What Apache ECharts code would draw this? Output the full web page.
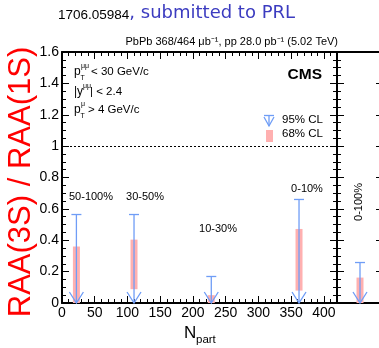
<!DOCTYPE html>
<html>
<head>
<meta charset="utf-8">
<script src="https://cdn.jsdelivr.net/npm/echarts@6/dist/echarts.min.js"></script>
<style>html,body{margin:0;padding:0;background:#fff}#c{width:379px;height:348px}</style>
</head>
<body>
<div id="c"></div>
<script>
// ---- data ----
const centralities = ['50-100%', '30-50%', '10-30%', '0-10%'];
const npart = [22, 110, 228, 362];
const box68Low = [0, 0.088, 0, 0.079];
const box68High = [0.36, 0.404, 0.05, 0.472];
const limit95 = [0.564, 0.564, 0.169, 0.66];
const intCentrality = '0-100%';
const intBoxLow = [0];
const intBoxHigh = [0.162];
const intLimit95 = [0.258];
const xTicks = [0, 50, 100, 150, 200, 250, 300, 350, 400];
const yTicks = [0, 0.2, 0.4, 0.6, 0.8, 1, 1.2, 1.4, 1.6];

const PINK = '#ffb0b0';
const BLUE = '#6f9df6';
const FONT = 'Liberation Sans';

const chart = echarts.init(document.getElementById('c'), null, {renderer: 'canvas'});

function renderItem(params, api) {
  const x = api.value(0);
  const pLo = api.coord([x, api.value(1)]);
  const pHi = api.coord([x, api.value(2)]);
  const pLim = api.coord([x, api.value(3)]);
  const p0 = api.coord([x, 0]);
  return {
    type: 'group',
    children: [
      {type: 'rect', shape: {x: pLo[0] - 3.5, y: pHi[1], width: 7, height: pLo[1] - pHi[1]}, style: {fill: PINK}},
      {type: 'line', shape: {x1: pLim[0], y1: pLim[1], x2: p0[0], y2: p0[1]}, style: {stroke: BLUE, lineWidth: 1.3}},
      {type: 'line', shape: {x1: pLim[0] - 5, y1: pLim[1], x2: pLim[0] + 5, y2: pLim[1]}, style: {stroke: BLUE, lineWidth: 1.3}},
      {type: 'polyline', shape: {points: [[p0[0] - 7, p0[1] - 11], [p0[0], p0[1]], [p0[0] + 7, p0[1] - 11]]}, style: {stroke: BLUE, lineWidth: 1.3, fill: null}}
    ]
  };
}

const tickLabelFmt = v => (xTicks.indexOf(v) >= 0 ? String(v) : '');
const yLabelFmt = v => (yTicks.some(t => Math.abs(t - v) < 1e-9) ? String(+v.toFixed(1)) : '');

const axisLine = {show: true, onZero: false, lineStyle: {color: '#000', width: 2}};
const tick = {show: true, inside: true, length: 7, lineStyle: {color: '#000', width: 1}};
const minor = (n) => ({show: true, splitNumber: n, length: 4, lineStyle: {color: '#000', width: 1}});

const option = {
  animation: false,
  backgroundColor: '#fff',
  grid: [
    {left: 62, top: 52, width: 275, height: 251, outerBoundsMode: 'none', containLabel: false},
    {left: 337, top: 52, width: 46, height: 251, outerBoundsMode: 'none', containLabel: false}
  ],
  xAxis: [
    {gridIndex: 0, type: 'value', min: 0, max: 420, interval: 50, position: 'bottom',
      axisLine, axisTick: tick, minorTick: minor(5), splitLine: {show: false},
      axisLabel: {formatter: tickLabelFmt, color: '#000', fontSize: 14, fontFamily: FONT, margin: 3}},
    {gridIndex: 0, type: 'value', min: 0, max: 420, interval: 50, position: 'top',
      axisLine, axisTick: tick, minorTick: minor(5), splitLine: {show: false}, axisLabel: {show: false}},
    {gridIndex: 1, type: 'value', min: 0, max: 1, position: 'bottom',
      axisLine, axisTick: {show: false}, splitLine: {show: false}, axisLabel: {show: false}},
    {gridIndex: 1, type: 'value', min: 0, max: 1, position: 'top',
      axisLine, axisTick: {show: false}, splitLine: {show: false}, axisLabel: {show: false}}
  ],
  yAxis: [
    {gridIndex: 0, type: 'value', min: 0, max: 1.6, interval: 0.2, position: 'left',
      axisLine, axisTick: tick, minorTick: minor(4), splitLine: {show: false},
      axisLabel: {formatter: yLabelFmt, color: '#000', fontSize: 14, fontFamily: FONT, margin: 3}},
    {gridIndex: 0, type: 'value', min: 0, max: 1.6, interval: 0.2, position: 'right',
      axisLine, axisTick: tick, minorTick: minor(4), splitLine: {show: false}, axisLabel: {show: false}},
    {gridIndex: 1, type: 'value', min: 0, max: 1.6, interval: 0.2, position: 'left',
      axisLine, axisTick: tick, minorTick: minor(4), splitLine: {show: false}, axisLabel: {show: false}},
    {gridIndex: 1, type: 'value', min: 0, max: 1.6, interval: 0.2, position: 'right',
      axisLine, axisTick: tick, minorTick: minor(4), splitLine: {show: false}, axisLabel: {show: false}}
  ],
  series: [
    {type: 'custom', xAxisIndex: 0, yAxisIndex: 0, renderItem,
      data: npart.map((x, i) => [x, box68Low[i], box68High[i], limit95[i]]),
      markLine: {silent: true, symbol: 'none', label: {show: false},
        lineStyle: {color: '#000', type: [2, 2], width: 1},
        data: [{yAxis: 1}]}},
    {type: 'custom', xAxisIndex: 2, yAxisIndex: 2, renderItem,
      data: [[0.5, intBoxLow[0], intBoxHigh[0], intLimit95[0]]]}
  ],
  graphic: [
    // title
    {type: 'text', left: 58, top: 4, style: {
      text: '{a|1706.05984}{b|, submitted to PRL}',
      rich: {
        a: {fontSize: 13.5, fontFamily: FONT, fill: '#000', verticalAlign: 'bottom', padding: [4, 0, 0, 0]},
        b: {fontSize: 18, fontFamily: 'DejaVu Sans', fill: '#3c3cc0'}
      }}},
    // luminosity
    {type: 'text', x: 338, y: 42, style: {text: 'PbPb 368/464 μb⁻¹, pp 28.0 pb⁻¹ (5.02 TeV)',
      fontSize: 11, fontFamily: FONT, fill: '#000', align: 'right', verticalAlign: 'middle'}},
    // y axis name
    {type: 'text', x: 21, y: 182, rotation: Math.PI / 2, style: {text: 'RAA(3S) / RAA(1S)',
      fontSize: 31, fontFamily: FONT, fill: '#ff0000', align: 'center', verticalAlign: 'middle'}},
    // x axis name
    {type: 'text', x: 184, y: 333, style: {text: 'N', fontSize: 17, fontFamily: FONT, fill: '#000', verticalAlign: 'middle'}},
    {type: 'text', x: 196, y: 340, style: {text: 'part', fontSize: 11.5, fontFamily: FONT, fill: '#000', verticalAlign: 'middle'}},
    // cuts text block
    {type: 'text', x: 74, y: 72, style: {text: 'p', fontSize: 12, fontFamily: FONT, fill: '#000', verticalAlign: 'middle'}},
    {type: 'text', x: 81, y: 66, style: {text: 'μμ', fontSize: 7, fontFamily: FONT, fill: '#000', verticalAlign: 'middle'}},
    {type: 'text', x: 80.5, y: 78, style: {text: 'T', fontSize: 7, fontFamily: FONT, fill: '#000', verticalAlign: 'middle'}},
    {type: 'text', x: 91, y: 72, style: {text: '< 30 GeV/c', fontSize: 11.5, fontFamily: FONT, fill: '#000', verticalAlign: 'middle'}},
    {type: 'text', x: 74, y: 92, style: {text: '|y', fontSize: 12, fontFamily: FONT, fill: '#000', verticalAlign: 'middle'}},
    {type: 'text', x: 83, y: 86, style: {text: 'μμ', fontSize: 7, fontFamily: FONT, fill: '#000', verticalAlign: 'middle'}},
    {type: 'text', x: 90, y: 92, style: {text: '| < 2.4', fontSize: 11.5, fontFamily: FONT, fill: '#000', verticalAlign: 'middle'}},
    {type: 'text', x: 74, y: 110, style: {text: 'p', fontSize: 12, fontFamily: FONT, fill: '#000', verticalAlign: 'middle'}},
    {type: 'text', x: 81, y: 104, style: {text: 'μ', fontSize: 7, fontFamily: FONT, fill: '#000', verticalAlign: 'middle'}},
    {type: 'text', x: 80.5, y: 116, style: {text: 'T', fontSize: 7, fontFamily: FONT, fill: '#000', verticalAlign: 'middle'}},
    {type: 'text', x: 88, y: 110, style: {text: '> 4 GeV/c', fontSize: 11.5, fontFamily: FONT, fill: '#000', verticalAlign: 'middle'}},
    // CMS
    {type: 'text', x: 322, y: 75, style: {text: 'CMS', fontSize: 15.5, fontWeight: 'bold', fontFamily: FONT, fill: '#000', align: 'right', verticalAlign: 'middle'}},
    // legend
    {type: 'line', shape: {x1: 264, y1: 115.5, x2: 274, y2: 115.5}, style: {stroke: BLUE, lineWidth: 1.3}},
    {type: 'line', shape: {x1: 269, y1: 115.5, x2: 269, y2: 126}, style: {stroke: BLUE, lineWidth: 1.3}},
    {type: 'polyline', shape: {points: [[264, 117], [269, 126], [274, 117]]}, style: {stroke: BLUE, lineWidth: 1.3, fill: null}},
    {type: 'text', x: 282, y: 120, style: {text: '95% CL', fontSize: 11.5, fontFamily: FONT, fill: '#000', verticalAlign: 'middle'}},
    {type: 'rect', shape: {x: 266, y: 130, width: 7, height: 12}, style: {fill: PINK}},
    {type: 'text', x: 282, y: 134, style: {text: '68% CL', fontSize: 11.5, fontFamily: FONT, fill: '#000', verticalAlign: 'middle'}},
    // centrality labels
    {type: 'text', x: 91, y: 197, style: {text: centralities[0], fontSize: 11, fontFamily: FONT, fill: '#000', align: 'center', verticalAlign: 'middle'}},
    {type: 'text', x: 145, y: 197, style: {text: centralities[1], fontSize: 11, fontFamily: FONT, fill: '#000', align: 'center', verticalAlign: 'middle'}},
    {type: 'text', x: 218, y: 229, style: {text: centralities[2], fontSize: 11, fontFamily: FONT, fill: '#000', align: 'center', verticalAlign: 'middle'}},
    {type: 'text', x: 307, y: 189, style: {text: centralities[3], fontSize: 11, fontFamily: FONT, fill: '#000', align: 'center', verticalAlign: 'middle'}},
    {type: 'text', x: 359, y: 202, rotation: Math.PI / 2, style: {text: intCentrality, fontSize: 11, fontFamily: FONT, fill: '#000', align: 'center', verticalAlign: 'middle'}}
  ]
};
chart.setOption(option);
</script>
</body>
</html>
